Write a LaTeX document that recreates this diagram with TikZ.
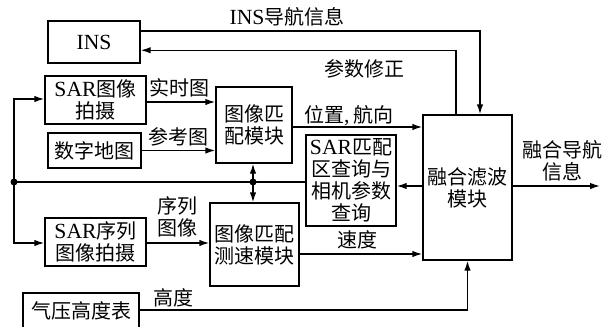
\documentclass[tikz,border=0pt]{standalone}
\usepackage{fontspec}
\setmainfont{Noto Sans CJK SC}
\newfontfamily\lat[Scale=1.08]{Liberation Serif}
\usetikzlibrary{arrows.meta,calc}
\newcommand\fs{\fontsize{20}{22}\selectfont}
\begin{document}
\begin{tikzpicture}[x=1pt,y=-1pt,
  box/.style={draw, line width=1.4pt, inner sep=0pt, align=center, font=\fs},
  lbl/.style={inner sep=0pt, align=center, font=\fs},
  arr/.style={line width=1.4pt, -{Latex[length=10pt,width=6.5pt]}},
  ln/.style={line width=1.4pt},
  dot/.style={circle, fill, inner sep=0pt, minimum size=7pt}]
\clip (0,0) rectangle (606,327);
% boxes
\node[box, minimum width=92pt, minimum height=42pt] (ins) at (94,42) {\lat INS};
\node[box, minimum width=101pt, minimum height=48pt] (sar) at (95.5,100) {{\lat SAR}图像\\拍摄};
\node[box, minimum width=93pt, minimum height=35pt] (map) at (94.5,150.5) {数字地图};
\node[box, minimum width=76pt, minimum height=76pt] (match) at (254,125) {图像匹\\配模块};
\node[box, minimum width=90pt, minimum height=91pt] (query) at (351,180.5) {{\lat SAR}匹配\\区查询与\\相机参数\\查询};
\node[box, minimum width=89pt, minimum height=145pt] (fus) at (467.5,187.5) {融合滤波\\模块};
\node[box, minimum width=101pt, minimum height=48pt] (seq) at (95.5,242) {{\lat SAR}序列\\图像拍摄};
\node[box, minimum width=89pt, minimum height=83pt] (speed) at (254.5,244.5) {图像匹配\\测速模块};
\node[box, minimum width=116pt, minimum height=36pt] (baro) at (81,311) {气压高度表};
% junctions
\coordinate (jl) at (14,182);
\coordinate (jm) at (253,182);
\coordinate (out) at (600,186);
% connectors
\draw[arr] ($(ins.north east)!0.25!(ins.south east)$) -| ($(fus.north)+(12.5,0)$);
\draw[arr] ($(fus.north)+(-11.5,0)$) |- ($(ins.north east)!0.69!(ins.south east)$);
\coordinate (a1) at ($(sar.east)+(0,2)$);
\draw[arr] (a1) -- (a1 -| match.west);
\draw[arr] (map.east) -- (map.east -| match.west);
\coordinate (a2) at ($(match.east)+(0,2)$);
\draw[arr] (a2) -- (a2 -| fus.west);
\coordinate (a3) at ($(speed.east)+(0,9.5)$);
\draw[arr] (a3) -- (a3 -| fus.west);
\coordinate (a4) at ($(fus.east)+(0,-1.5)$);
\draw[arr] (a4) -- (out);
\coordinate (a5) at ($(fus.west)+(0,-1.5)$);
\draw[arr] (a5) -- (a5 -| query.east);
\draw[ln] ($(query.west)+(0,1.5)$) -- (jl);
\draw[arr] (jl) |- ($(sar.west)+(0,-1)$);
\draw[arr] (jl) |- ($(seq.west)+(0,1)$);
\draw[arr] (jm) -- (jm |- match.south);
\draw[arr] (jm) -- (jm |- speed.north);
\coordinate (a6) at ($(seq.east)+(0,1)$);
\draw[arr] (a6) -- (a6 -| speed.west);
\draw[arr] ($(baro.east)+(0,-1)$) -| (fus.south);
\node[dot] (djl) at (jl) {};
\node[dot] (djm) at (jm) {};
% labels
\node[lbl] (l1) at (287,17) {{\lat INS}导航信息};
\node[lbl] (l2) at (364,69) {参数修正};
\node[lbl] (l3) at (179,88) {实时图};
\node[lbl] (l4) at (178,137) {参考图};
\node[lbl] (l5) at (349,116) {位置{\lat ,} 航向};
\node[lbl] (l6) at (562,161) {融合导航\\信息};
\node[lbl] (l7) at (177,217) {序列\\图像};
\node[lbl] (l8) at (357,240) {速度};
\node[lbl] (l9) at (173,298) {高度};
\end{tikzpicture}
\end{document}
